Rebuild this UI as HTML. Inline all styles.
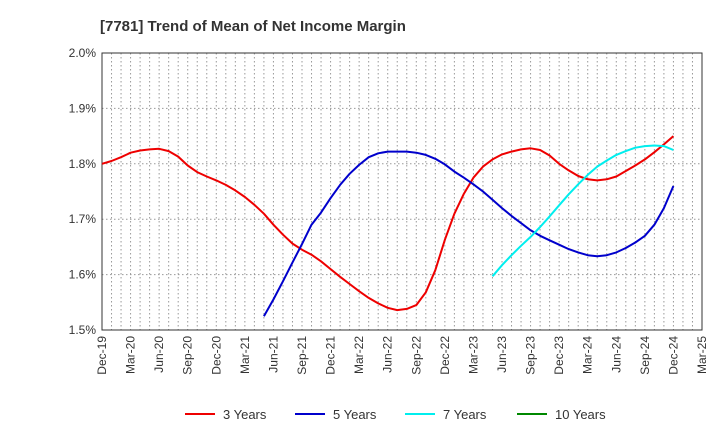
<!DOCTYPE html>
<html><head><meta charset="utf-8"><style>body{margin:0;background:#fff}svg text{font-family:"Liberation Sans",sans-serif}</style></head>
<body>
<svg id="chart" width="720" height="440" xmlns="http://www.w3.org/2000/svg">
<text x="100" y="31" font-size="15" font-weight="bold" fill="#333">[7781]  Trend of Mean of Net Income Margin</text>
<g id="grid"></g><g id="axes"></g><g id="series"></g><g id="legend"></g>
</svg>
<script>
const xTickLabels=["Dec-19","Mar-20","Jun-20","Sep-20","Dec-20","Mar-21","Jun-21","Sep-21","Dec-21","Mar-22","Jun-22","Sep-22","Dec-22","Mar-23","Jun-23","Sep-23","Dec-23","Mar-24","Jun-24","Sep-24","Dec-24","Mar-25"];
const yTicks=[1.5,1.6,1.7,1.8,1.9,2.0];
const yTickLabels=["1.5%","1.6%","1.7%","1.8%","1.9%","2.0%"];
const seriesNames=["3 Years","5 Years","7 Years","10 Years"];
const seriesColors=["#e00","#00c","#0ee","#080"];
const N=null;
const s3=[1.800,1.805,1.812,1.820,1.824,1.826,1.827,1.823,1.813,1.797,1.785,1.777,1.770,1.762,1.752,1.740,1.726,1.710,1.690,1.672,1.656,1.645,1.636,1.624,1.610,1.596,1.583,1.570,1.558,1.548,1.540,1.536,1.538,1.545,1.568,1.608,1.663,1.710,1.746,1.775,1.795,1.808,1.817,1.822,1.826,1.828,1.825,1.815,1.800,1.788,1.778,1.772,1.770,1.772,1.777,1.787,1.797,1.808,1.821,1.835,1.850];
const s5=[N,N,N,N,N,N,N,N,N,N,N,N,N,N,N,N,N,1.525,1.555,1.588,1.622,1.655,1.690,1.712,1.738,1.762,1.782,1.798,1.812,1.819,1.822,1.822,1.822,1.820,1.816,1.809,1.799,1.786,1.775,1.763,1.750,1.735,1.720,1.706,1.693,1.680,1.670,1.662,1.654,1.646,1.640,1.635,1.633,1.635,1.640,1.648,1.658,1.670,1.690,1.720,1.760];
const s7=[N,N,N,N,N,N,N,N,N,N,N,N,N,N,N,N,N,N,N,N,N,N,N,N,N,N,N,N,N,N,N,N,N,N,N,N,N,N,N,N,N,1.597,1.617,1.635,1.652,1.668,1.686,1.705,1.725,1.745,1.763,1.780,1.795,1.806,1.816,1.823,1.829,1.832,1.833,1.832,1.825];
const s10=[];
const L=102,R=702,T=53,B=330,months=63;
const xs=i=>L+(R-L)*i/months, ys=v=>B-(v-1.5)/0.5*(B-T);
const NS="http://www.w3.org/2000/svg";
function mk(t,a,p){const e=document.createElementNS(NS,t);for(const k in a)e.setAttribute(k,a[k]);p.appendChild(e);return e;}
const grid=document.getElementById('grid'),axes=document.getElementById('axes'),ser=document.getElementById('series'),leg=document.getElementById('legend');
for(let i=1;i<months;i++){const l=mk('line',{x1:xs(i),x2:xs(i),y1:T,y2:B,stroke:'#999','stroke-dasharray':'1.5,2.5'},grid);

}
yTicks.forEach((v,k)=>{if(k>0&&k<yTicks.length-1){const l=mk('line',{x1:L,x2:R,y1:ys(v),y2:ys(v),stroke:'#999','stroke-dasharray':'1.5,2.5'},grid);

}
const t=mk('text',{x:L-6,y:ys(v)+4,'text-anchor':'end','font-size':12,fill:'#333'},axes);t.textContent=yTickLabels[k];

});
const fr=mk('rect',{x:L,y:T,width:R-L,height:B-T,fill:'none',stroke:'#333'},axes);


xTickLabels.forEach((s,k)=>{const x=xs(k*3);const t=mk('text',{transform:`translate(${x+4},${B+6}) rotate(-90)`,'text-anchor':'end','font-size':12,fill:'#333'},axes);t.textContent=s;

});
[s3,s5,s7,s10].forEach((d,k)=>{let p='';d.forEach((v,i)=>{if(v!=null)p+=(p?'L':'M')+xs(i).toFixed(1)+','+ys(v).toFixed(1);});
if(p){const e=mk('path',{d:p,fill:'none',stroke:seriesColors[k],'stroke-width':2,'stroke-linejoin':'round'},ser);

}});
const lx=[185,295,405,517];
seriesNames.forEach((n,k)=>{const g=mk('g',{},leg);


mk('line',{x1:lx[k],x2:lx[k]+30,y1:414,y2:414,stroke:seriesColors[k],'stroke-width':2},g);
const t=mk('text',{x:lx[k]+38,y:419,'font-size':13,fill:'#333'},g);t.textContent=n;});
</script>
</body></html>
